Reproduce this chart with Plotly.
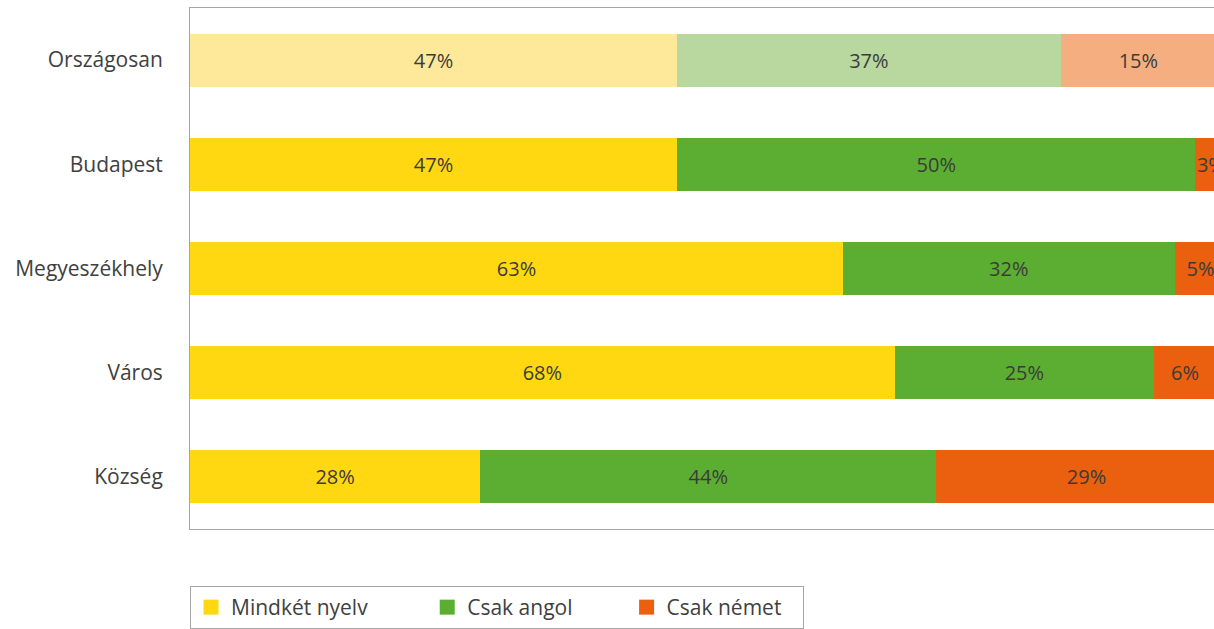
import plotly.graph_objects as go

categories = ["Országosan", "Budapest", "Megyeszékhely", "Város", "Község"]
series_names = ["Mindkét nyelv", "Csak angol", "Csak német"]
mindket = [47, 47, 63, 68, 28]
angol = [37, 50, 32, 25, 44]
nemet = [15, 3, 5, 6, 29]

base_colors = ["#FFD812", "#5BAE32", "#EA600E"]
light_colors = ["#FDE999", "#B8D89F", "#F5AE80"]
legend_pad = ["\u00a0" * 10, "\u00a0" * 9, "\u00a0" * 3]

values = [mindket, angol, nemet]
fig = go.Figure()
for name, vals, c, lc in zip(series_names, values, base_colors, light_colors):
    colors = [lc if cat == "Országosan" else c for cat in categories]
    fig.add_trace(go.Bar(
        y=categories, x=vals, name=name, orientation="h",
        marker=dict(color=colors, line=dict(width=0)),
        text=[f"{v}%" for v in vals], textposition="inside", textangle=0,
        insidetextanchor="middle", constraintext="none",
        textfont=dict(family="Open Sans", size=20, color="#3b3b3b"),
        hoverinfo="skip", showlegend=False,
    ))
for name, c, pad in zip(series_names, base_colors, legend_pad):
    fig.add_trace(go.Scatter(y=[None], x=[None], name=name + pad, mode="markers",
                             marker=dict(color=c, symbol="square", size=15),
                             showlegend=True))

fig.update_layout(
    width=1214, height=629,
    margin=dict(l=190, r=0, t=8, b=100),
    barmode="stack", bargap=0.49,
    plot_bgcolor="white", paper_bgcolor="white",
    font=dict(family="Open Sans", size=20, color="#404040"),
    uniformtext=dict(minsize=20, mode="show"),
    showlegend=True,
    legend=dict(orientation="h", x=0, xanchor="left", y=-0.1094, yanchor="top",
                bordercolor="#A6A6A6", borderwidth=1,
                font=dict(family="Open Sans", size=21, color="#404040"),
                traceorder="normal"),
)
fig.update_xaxes(range=[0, 98.8], showticklabels=False, showgrid=False,
                 zeroline=False, showline=True, mirror=True,
                 linecolor="#A6A6A6", linewidth=1, ticks="")
fig.update_yaxes(categoryorder="array", categoryarray=categories,
                 autorange="reversed", showgrid=False, zeroline=False,
                 showline=True, linecolor="#A6A6A6", linewidth=1,
                 ticks="", ticklabelstandoff=22,
                 tickfont=dict(family="Open Sans", size=21, color="#404040"))

fig.write_html("out.html", config={"displayModeBar": False},
               post_script="document.body.style.margin='0';document.body.style.overflow='hidden';")
